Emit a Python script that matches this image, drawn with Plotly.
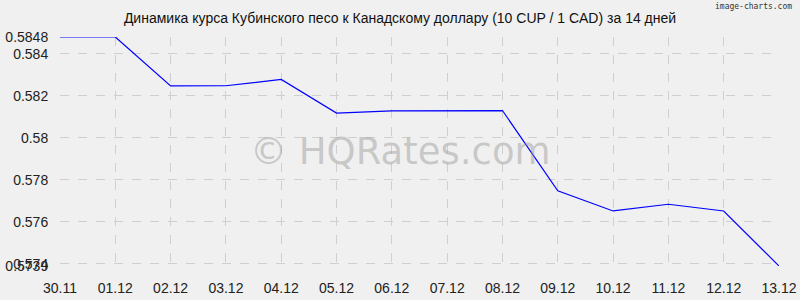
import plotly.graph_objects as go

dates = ["30.11", "01.12", "02.12", "03.12", "04.12", "05.12", "06.12",
         "07.12", "08.12", "09.12", "10.12", "11.12", "12.12", "13.12"]
rates = [0.5848, 0.5848, 0.58247, 0.58248, 0.58278, 0.58118, 0.58128,
         0.58128, 0.58130, 0.57748, 0.57652, 0.57684, 0.57652, 0.5739]

y_min = 0.5739
y_max = 0.5848
y_ticks = [0.5739, 0.574, 0.576, 0.578, 0.58, 0.582, 0.584, 0.5848]
y_tick_text = ["0.5739", "0.574", "0.576", "0.578", "0.58", "0.582", "0.584", "0.5848"]

title_text = "Динамика курса Кубинского песо к Канадскому доллару (10 CUP / 1 CAD) за 14 дней"
watermark = "© HQRates.com"
brand = "image-charts.com"

bg = "#f0f0f0"
grid = "#cfcfcf"
font_family = "Liberation Sans, Arial, sans-serif"

fig = go.Figure()
fig.add_trace(go.Scatter(
    x=list(range(len(dates))), y=rates, mode="lines",
    line=dict(color="#0000ff", width=1.2), hoverinfo="skip", showlegend=False,
))

fig.update_layout(
    width=800, height=300,
    margin=dict(l=60, r=21, t=37, b=34, pad=0, autoexpand=False),
    paper_bgcolor=bg, plot_bgcolor=bg,
    font=dict(family=font_family, size=14, color="#222222"),
    showlegend=False,
    title=dict(text=title_text, x=0.5, xref="container", xanchor="center",
               y=1 - 18 / 300, yref="container", yanchor="middle",
               font=dict(family=font_family, size=14, color="#111111")),
    xaxis=dict(
        range=[0, len(dates) - 1], automargin=False,
        tickmode="array", tickvals=list(range(len(dates))), ticktext=dates,
        showgrid=True, gridcolor=grid, griddash="dash", gridwidth=1,
        zeroline=False, showline=False,
        ticks="outside", ticklen=9, tickcolor="rgba(0,0,0,0)",
        tickfont=dict(size=14, color="#222222"),
    ),
    yaxis=dict(
        range=[y_min, y_max], automargin=False,
        tickmode="array", tickvals=y_ticks, ticktext=y_tick_text,
        showgrid=True, gridcolor=grid, griddash="dash", gridwidth=1,
        zeroline=False, showline=False,
        ticks="outside", ticklen=8, tickcolor="rgba(0,0,0,0)",
        tickfont=dict(size=14, color="#222222"),
    ),
    annotations=[
        dict(text=watermark, xref="paper", yref="paper",
             x=(400 - 60) / (800 - 60 - 21), y=0.5,
             xanchor="center", yanchor="middle", showarrow=False,
             font=dict(family="DejaVu Sans, Verdana, sans-serif", size=37,
                       color="rgba(150,150,150,0.45)")),
        dict(text=brand, xref="paper", yref="paper",
             x=(794 - 60) / (800 - 60 - 21), y=1 + (37 - 6) / (300 - 37 - 34),
             xanchor="right", yanchor="middle", showarrow=False,
             font=dict(family="DejaVu Sans Mono, monospace", size=8, color="#333333")),
    ],
)

fig.write_html("out.html")
